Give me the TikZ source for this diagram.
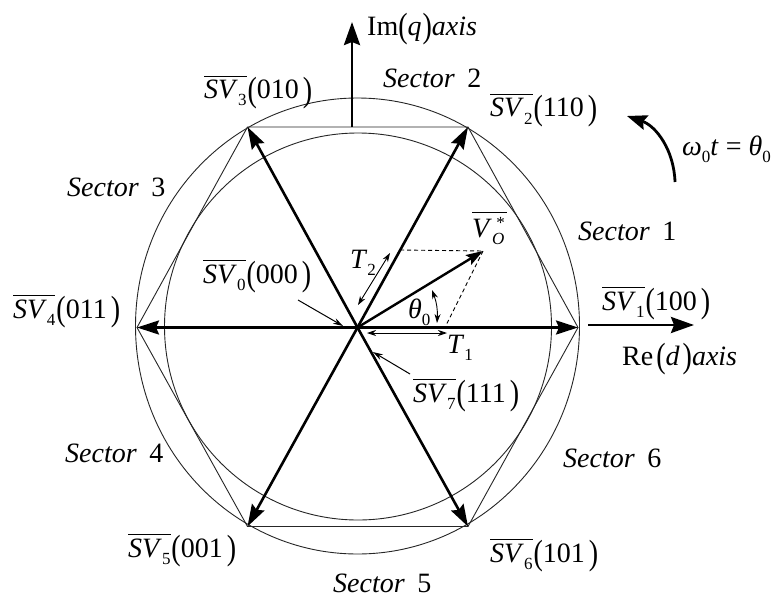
\documentclass[tikz,border=0pt]{standalone}
\usepackage{fontspec}
\setmainfont{Liberation Serif}
\usetikzlibrary{arrows.meta}
\newcommand{\mysub}[1]{\raisebox{-7pt}{\fontsize{17}{19}\selectfont #1}}
\newcommand{\mysup}[1]{\raisebox{9pt}{\fontsize{17}{19}\selectfont #1}}
\newcommand{\ovl}[1]{\vbox{\hrule height 0.9pt\kern4pt\hbox{#1}}}
\newcommand{\lp}{\raisebox{-2pt}{\scalebox{1}[1.25]{(}}}
\newcommand{\rp}{\raisebox{-2pt}{\scalebox{1}[1.25]{)}}}
\newcommand{\svl}[2]{\ovl{\textit{SV}\mysub{#1}}\kern1pt\lp#2\kern4pt\rp}
\newcommand{\sect}[1]{\textit{Sector}\hspace{0.45em}#1}
\tikzset{
  lab/.style={inner sep=0pt, anchor=base west, font=\fontsize{28}{32}\selectfont},
  mainarrow/.style={line width=2.6pt, -{Stealth[length=22pt,width=14pt,inset=3pt]}},
  axisarrow/.style={line width=2.8pt, -{Stealth[length=23pt,width=16pt,inset=3pt]}},
  thin/.style={line width=0.9pt, draw=black!85},
  dimarrow/.style={line width=0.9pt, {Stealth[length=9pt,width=6pt]}-{Stealth[length=9pt,width=6pt]}},
  pointer/.style={line width=1pt, -{Stealth[length=10pt,width=6pt]}},
  dashline/.style={line width=0.9pt, dash pattern=on 4pt off 3pt}
}
\begin{document}
\begin{tikzpicture}[x=1pt,y=-1pt]
\useasboundingbox (0,0) rectangle (783,599);
\fill[white] (0,0) rectangle (783,599);
% key points
\coordinate (O) at (357.5,327.5);
\coordinate (V1) at (578,327.5);
\coordinate (V2) at (468,127);
\coordinate (V3) at (247.5,127);
\coordinate (V4) at (137,327.5);
\coordinate (V5) at (247.5,526.5);
\coordinate (V6) at (468,526.5);
% circles and hexagon
\draw[thin] (357.5,326) ellipse [x radius=222, y radius=228];
\draw[thin] (358,326.5) circle [radius=193.5];
\draw[thin] (V1) -- (V2) -- (V3) -- (V4) -- (V5) -- (V6) -- cycle;
% axes
\coordinate (ImB) at (352,127);
\coordinate (ImT) at (352,22);
\coordinate (ReL) at (588,325);
\coordinate (ReR) at (694,325);
\draw[axisarrow] (ImB) -- (ImT);
\draw[axisarrow] (ReL) -- (ReR);
% main vectors
\draw[mainarrow] (O) -- (V1);
\draw[mainarrow] (O) -- (V2);
\draw[mainarrow] (O) -- (V3);
\draw[mainarrow] (O) -- (V4);
\draw[mainarrow] (O) -- (V5);
\draw[mainarrow] (O) -- (V6);
% reference vector
\coordinate (Tip) at (483,251);
\coordinate (P2) at (400,250);
\coordinate (P1) at (445,327.5);
\draw[dashline] (P2) -- (Tip);
\draw[dashline] (Tip) -- (P1);
\draw[line width=2.4pt, -{Stealth[length=17pt,width=11pt,inset=3pt]}] (O) -- (Tip);
% T1, T2, theta
\coordinate (T2a) at (358,305);
\coordinate (T2b) at (390,253);
\coordinate (T1a) at (367,333);
\coordinate (T1b) at (447,333);
\coordinate (THa) at (437,323);
\coordinate (THb) at (432,290);
\draw[dimarrow] (T2a) -- (T2b);
\draw[dimarrow] (T1a) -- (T1b);
\draw[dimarrow] (THa) to[bend right=12] (THb);
% rotation arrow
\coordinate (Wa) at (675,182);
\coordinate (Wb) at (627,116);
\draw[line width=2.8pt, -{Stealth[length=20pt,width=15pt,inset=3pt]}] (Wa) .. controls (674,150) and (656,126) .. (Wb);
% labels
\node[lab] (s3) at (204,99) {\svl{3}{010}};
\node[lab] (s2) at (490,117) {\svl{2}{110}};
\node[lab] (s4) at (13,318) {\svl{4}{011}};
\node[lab] (s1) at (602,310) {\svl{1}{100}};
\node[lab] (s0) at (203,283) {\svl{0}{000}};
\node[lab] (s7) at (413,402) {\svl{7}{111}};
\node[lab] (s5) at (128,557) {\svl{5}{001}};
\node[lab] (s6) at (490,562) {\svl{6}{101}};
\node[lab] (sec1) at (578,240) {\sect{1}};
\node[lab] (sec2) at (383,88) {\sect{2}};
\node[lab] (sec3) at (67,196) {\sect{3}};
\node[lab] (sec4) at (65,462) {\sect{4}};
\node[lab] (sec5) at (333,592) {\sect{5}};
\node[lab] (sec6) at (563,467) {\sect{6}};
\node[lab] (im) at (367,36) {Im\lp\textit{q}\kern1pt\rp\textit{axis}};
\node[lab] (re) at (622,365) {Re\kern3pt\lp\textit{d}\kern3pt\rp\textit{axis}};
\node[lab] (om) at (682,155) {\textit{ω}\mysub{0}\textit{t} = \textit{θ}\mysub{0}};
\node[lab] (vo) at (472,237) {\ovl{\textit{V}\mysub{\textit{O}}\kern-8pt\mysup{*}\kern2pt}};
\node[lab] (t2) at (350,268) {\textit{T}\mysub{2}};
\node[lab] (t1) at (447,353) {\textit{T}\mysub{1}};
\node[lab] (th) at (408,318) {\textit{θ}\mysub{0}};
% pointers
\coordinate (S0a) at (298,300);
\coordinate (S0b) at (343,326);
\coordinate (S7a) at (410,374);
\coordinate (S7b) at (373,352);
\draw[pointer] (S0a) -- (S0b);
\draw[pointer] (S7a) -- (S7b);
\end{tikzpicture}
\end{document}
